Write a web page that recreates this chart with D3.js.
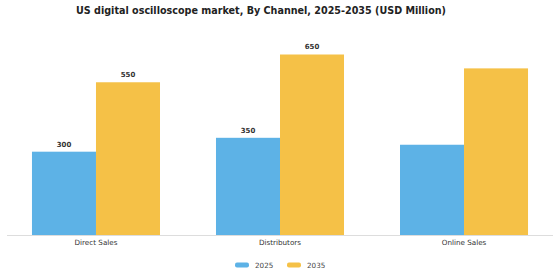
<!DOCTYPE html>
<html>
<head>
<meta charset="utf-8">
<script src="https://cdn.jsdelivr.net/npm/d3@7"></script>
<style>
  body { margin: 0; background: #fff; }
  text { font-family: "DejaVu Sans", sans-serif; }
</style>
</head>
<body>
<div id="chart"></div>
<script>
// Data
const channels = ["Direct Sales", "Distributors", "Online Sales"];
const years = ["2025", "2035"];
const values2025 = [300, 350, 325];
const values2035 = [550, 650, 600];
// only some bars carry a value label in the reference
const labelled2025 = [true, true, false];
const labelled2035 = [true, true, false];
const colors = ["#5DB2E6", "#F5C147"];

const width = 560, height = 280;

const svg = d3.select("#chart")
  .append("svg")
  .attr("width", width)
  .attr("height", height);

// Title
svg.append("text")
  .attr("x", 261)
  .attr("y", 14)
  .attr("text-anchor", "middle")
  .style("font-size", "9.6px")
  .style("font-weight", "bold")
  .style("fill", "#222")
  .text("US digital oscilloscope market, By Channel, 2025-2035 (USD Million)");

// Scales
const x = d3.scaleBand()
  .domain(channels)
  .range([4, 556])
  .paddingInner(0.3043)
  .paddingOuter(0.152);

const x1 = d3.scaleBand()
  .domain(years)
  .range([0, x.bandwidth()]);

const y = d3.scaleLinear()
  .domain([0, 700])
  .range([235, 235 - 700 * 0.2777]);

const rows = channels.map((c, i) => ({
  channel: c,
  bars: [
    { year: "2025", value: values2025[i], show: labelled2025[i] },
    { year: "2035", value: values2035[i], show: labelled2035[i] }
  ]
}));

const groups = svg.append("g")
  .selectAll("g")
  .data(rows)
  .join("g")
  .attr("transform", d => `translate(${x(d.channel)},0)`);

groups.selectAll("rect")
  .data(d => d.bars)
  .join("rect")
  .attr("x", d => x1(d.year))
  .attr("y", d => y(d.value))
  .attr("width", x1.bandwidth())
  .attr("height", d => y(0) - y(d.value))
  .attr("fill", (d, i) => colors[i]);

groups.selectAll("text.val")
  .data(d => d.bars.filter(b => b.show))
  .join("text")
  .attr("class", "val")
  .attr("x", d => x1(d.year) + x1.bandwidth() / 2)
  .attr("y", d => y(d.value) - 5)
  .attr("text-anchor", "middle")
  .style("font-size", "7px")
  .style("font-weight", "bold")
  .style("fill", "#333")
  .text(d => d.value);

// Baseline
svg.append("line")
  .attr("x1", 7)
  .attr("x2", 553)
  .attr("y1", y(0) + 0.5)
  .attr("y2", y(0) + 0.5)
  .attr("stroke", "#ddd")
  .attr("stroke-width", 1);

// Category labels
const xAxis = svg.append("g")
  .attr("transform", `translate(0,${y(0)})`)
  .call(d3.axisBottom(x).tickSize(0).tickPadding(5));
xAxis.select(".domain").remove();
xAxis.selectAll("text")
  .style("font-family", "'DejaVu Sans', sans-serif")
  .style("font-size", "7.2px")
  .style("fill", "#333");

// Legend
const legend = svg.append("g")
  .attr("transform", "translate(235,265)");
const items = legend.selectAll("g")
  .data(years)
  .join("g")
  .attr("transform", (d, i) => `translate(${i * 52},0)`);
items.append("rect")
  .attr("x", 0)
  .attr("y", -2.5)
  .attr("width", 14)
  .attr("height", 5)
  .attr("rx", 2)
  .attr("fill", (d, i) => colors[i]);
items.append("text")
  .attr("x", 20)
  .attr("y", 0)
  .attr("dy", "0.35em")
  .style("font-size", "7.2px")
  .style("fill", "#444")
  .text(d => d);
</script>
</body>
</html>
